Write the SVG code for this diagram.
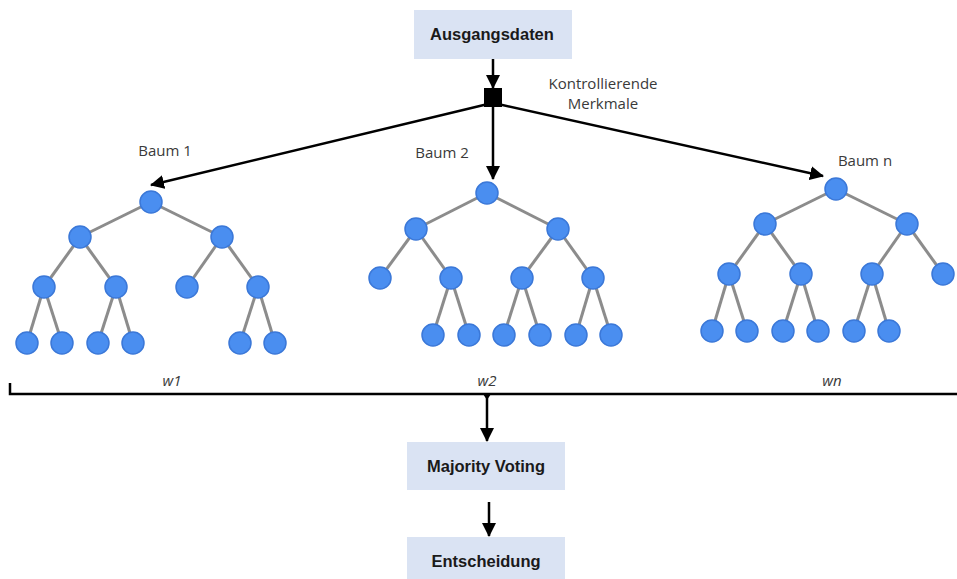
<svg xmlns="http://www.w3.org/2000/svg" width="957" height="579" viewBox="0 0 957 579">
  <defs>
    <marker id="arrow" markerUnits="userSpaceOnUse" markerWidth="16" markerHeight="14" refX="13" refY="7" orient="auto">
      <path d="M0,0 L14,7 L0,14 Z" fill="#000"/>
    </marker>
    <style>
      .box { fill: #dae3f3; }
      .boxtext { font-family: "Liberation Sans", Arial, sans-serif; font-weight: bold; font-size: 16.5px; fill: #1a1a1a; text-anchor: middle; }
      .label { font-family: "Open Sans", "Liberation Sans", sans-serif; font-size: 15px; fill: #3a3a3a; text-anchor: middle; }
      .weight { font-family: "Open Sans", "Liberation Sans", sans-serif; font-style: italic; font-size: 15px; fill: #3a3a3a; text-anchor: middle; }
      .conn { stroke: #000; stroke-width: 2.5; fill: none; }
      .edge { stroke: #8c8c8c; stroke-width: 3; }
      .leaf { fill: #4a8ef0; stroke: #3b78d8; stroke-width: 1.5; }
    </style>
  </defs>

  <rect width="957" height="579" fill="#fff"/>

  <!-- Connectors -->
  <g id="connectors">
    <line class="conn" x1="493" y1="59" x2="493" y2="88" marker-end="url(#arrow)"/>
    <rect x="484" y="88" width="18" height="19" fill="#000"/>
    <line class="conn" x1="488" y1="104" x2="151" y2="185" marker-end="url(#arrow)"/>
    <line class="conn" x1="493" y1="104" x2="493" y2="179" marker-end="url(#arrow)"/>
    <line class="conn" x1="498" y1="104" x2="823" y2="176" marker-end="url(#arrow)"/>
    <polyline class="conn" points="10,383 10,394 957,394"/>
    <path d="M483,394 L491,394 L487,400 Z" fill="#000"/>
    <line class="conn" x1="487" y1="397" x2="487" y2="441" marker-end="url(#arrow)"/>
    <line class="conn" x1="489" y1="502" x2="489" y2="536" marker-end="url(#arrow)"/>
  </g>

  <!-- Boxes -->
  <g id="ausgangsdaten">
    <rect class="box" x="414" y="10" width="158" height="49"/>
    <text class="boxtext" x="492" y="40">Ausgangsdaten</text>
  </g>
  <g id="majority-voting">
    <rect class="box" x="407" y="442" width="158" height="48"/>
    <text class="boxtext" x="486" y="472">Majority Voting</text>
  </g>
  <g id="entscheidung">
    <rect class="box" x="407" y="537" width="158" height="42"/>
    <text class="boxtext" x="486" y="567">Entscheidung</text>
  </g>

  <!-- Labels -->
  <g id="labels">
    <text class="label" x="603" y="89">Kontrollierende</text>
    <text class="label" x="603" y="109">Merkmale</text>
    <text class="label" x="165" y="156">Baum 1</text>
    <text class="label" x="442" y="158">Baum 2</text>
    <text class="label" x="865" y="166">Baum n</text>
    <text class="weight" x="172" y="386">w1</text>
    <text class="weight" x="487" y="386">w2</text>
    <text class="weight" x="832" y="386">wn</text>
  </g>

  <!-- Tree 1 -->
  <g id="baum-1">
    <g class="edge">
      <line x1="151" y1="202" x2="80" y2="237"/>
      <line x1="151" y1="202" x2="222" y2="237"/>
      <line x1="80" y1="237" x2="44" y2="287"/>
      <line x1="80" y1="237" x2="116" y2="287"/>
      <line x1="222" y1="237" x2="187" y2="287"/>
      <line x1="222" y1="237" x2="258" y2="287"/>
      <line x1="44" y1="287" x2="27" y2="343"/>
      <line x1="44" y1="287" x2="62" y2="343"/>
      <line x1="116" y1="287" x2="98" y2="343"/>
      <line x1="116" y1="287" x2="133" y2="343"/>
      <line x1="258" y1="287" x2="240" y2="343"/>
      <line x1="258" y1="287" x2="275" y2="343"/>
    </g>
    <g class="leaf">
      <circle cx="151" cy="202" r="11"/>
      <circle cx="80" cy="237" r="11"/>
      <circle cx="222" cy="237" r="11"/>
      <circle cx="44" cy="287" r="11"/>
      <circle cx="116" cy="287" r="11"/>
      <circle cx="187" cy="287" r="11"/>
      <circle cx="258" cy="287" r="11"/>
      <circle cx="27" cy="343" r="11"/>
      <circle cx="62" cy="343" r="11"/>
      <circle cx="98" cy="343" r="11"/>
      <circle cx="133" cy="343" r="11"/>
      <circle cx="240" cy="343" r="11"/>
      <circle cx="275" cy="343" r="11"/>
    </g>
  </g>

  <!-- Tree 2 -->
  <g id="baum-2">
    <g class="edge">
      <line x1="487" y1="193" x2="416" y2="229"/>
      <line x1="487" y1="193" x2="558" y2="229"/>
      <line x1="416" y1="229" x2="380" y2="278"/>
      <line x1="416" y1="229" x2="451" y2="278"/>
      <line x1="558" y1="229" x2="522" y2="278"/>
      <line x1="558" y1="229" x2="593" y2="278"/>
      <line x1="451" y1="278" x2="433" y2="335"/>
      <line x1="451" y1="278" x2="469" y2="335"/>
      <line x1="522" y1="278" x2="504" y2="335"/>
      <line x1="522" y1="278" x2="540" y2="335"/>
      <line x1="593" y1="278" x2="576" y2="335"/>
      <line x1="593" y1="278" x2="611" y2="335"/>
    </g>
    <g class="leaf">
      <circle cx="487" cy="193" r="11"/>
      <circle cx="416" cy="229" r="11"/>
      <circle cx="558" cy="229" r="11"/>
      <circle cx="380" cy="278" r="11"/>
      <circle cx="451" cy="278" r="11"/>
      <circle cx="522" cy="278" r="11"/>
      <circle cx="593" cy="278" r="11"/>
      <circle cx="433" cy="335" r="11"/>
      <circle cx="469" cy="335" r="11"/>
      <circle cx="504" cy="335" r="11"/>
      <circle cx="540" cy="335" r="11"/>
      <circle cx="576" cy="335" r="11"/>
      <circle cx="611" cy="335" r="11"/>
    </g>
  </g>

  <!-- Tree n -->
  <g id="baum-n">
    <g class="edge">
      <line x1="836" y1="189" x2="765" y2="224"/>
      <line x1="836" y1="189" x2="907" y2="224"/>
      <line x1="765" y1="224" x2="729" y2="274"/>
      <line x1="765" y1="224" x2="801" y2="274"/>
      <line x1="907" y1="224" x2="872" y2="274"/>
      <line x1="907" y1="224" x2="943" y2="274"/>
      <line x1="729" y1="274" x2="712" y2="331"/>
      <line x1="729" y1="274" x2="747" y2="331"/>
      <line x1="801" y1="274" x2="783" y2="331"/>
      <line x1="801" y1="274" x2="818" y2="331"/>
      <line x1="872" y1="274" x2="854" y2="331"/>
      <line x1="872" y1="274" x2="889" y2="331"/>
    </g>
    <g class="leaf">
      <circle cx="836" cy="189" r="11"/>
      <circle cx="765" cy="224" r="11"/>
      <circle cx="907" cy="224" r="11"/>
      <circle cx="729" cy="274" r="11"/>
      <circle cx="801" cy="274" r="11"/>
      <circle cx="872" cy="274" r="11"/>
      <circle cx="943" cy="274" r="11"/>
      <circle cx="712" cy="331" r="11"/>
      <circle cx="747" cy="331" r="11"/>
      <circle cx="783" cy="331" r="11"/>
      <circle cx="818" cy="331" r="11"/>
      <circle cx="854" cy="331" r="11"/>
      <circle cx="889" cy="331" r="11"/>
    </g>
  </g>
</svg>
